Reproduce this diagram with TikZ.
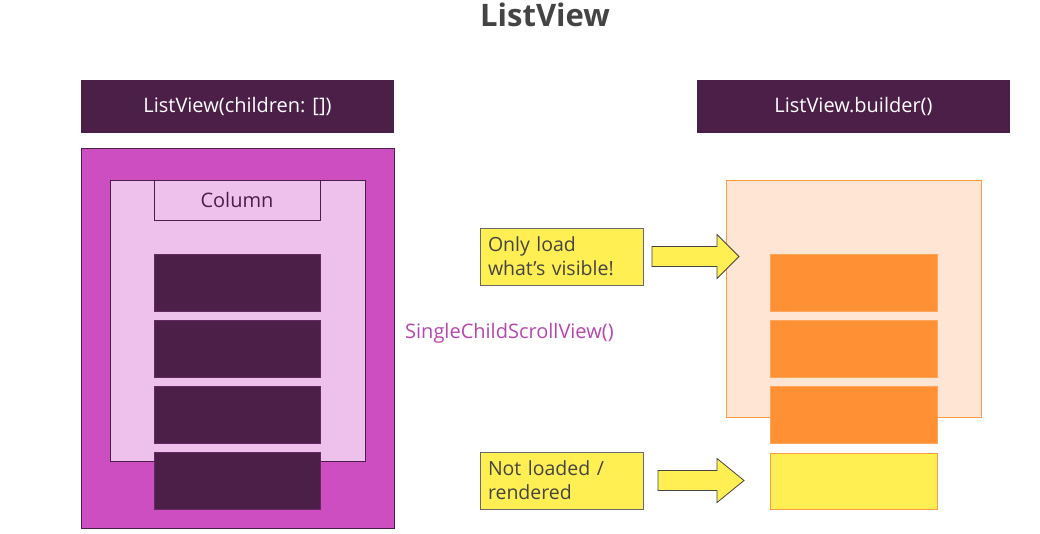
\documentclass[tikz,border=0pt]{standalone}
\usepackage{fontspec}
\setmainfont{Open Sans}
\newfontfamily\titlefont{Open Sans}
\usetikzlibrary{calc}

\definecolor{plum}{RGB}{75,31,72}
\definecolor{orchid}{RGB}{204,78,192}
\definecolor{lilac}{RGB}{237,193,235}
\definecolor{peach}{RGB}{255,229,212}
\definecolor{tangerine}{RGB}{255,144,51}
\definecolor{tangline}{RGB}{255,154,69}
\definecolor{lemon}{RGB}{255,239,82}
\definecolor{inkgray}{RGB}{68,68,68}

\tikzset{
  box/.style={draw, inner sep=0pt, outer sep=0pt, line width=0.8pt},
  header/.style={box, draw=none, fill=plum, text=white, minimum width=313, minimum height=53, font=\fontsize{20}{24}\selectfont},
  item/.style={box, draw=plum!80!orchid, fill=plum, minimum width=166, minimum height=57},
  tile/.style={box, draw=tangerine!80!white, fill=tangerine, minimum width=167, minimum height=57},
  note/.style={box, draw=inkgray!80, fill=lemon, minimum width=163, minimum height=57, text width=147, align=left, text=inkgray, font=\fontsize{19.5}{24}\selectfont},
  fatarrow/.style={draw=inkgray, fill=lemon, line width=0.8pt, line join=miter},
}
% shaft length, head length, start point
\def\fatarrow(#1:#2)(#3){\draw[fatarrow] ($(#3)+(0,-10)$) -- ++(#1,0) -- ++(0,-12) -- ++(#2,22) -- ++(-#2,22) -- ++(0,-12) -- ++(-#1,0) -- cycle;}

\begin{document}
\begin{tikzpicture}[x=1pt, y=-1pt]
  \useasboundingbox (0,0) rectangle (1040,534);

  %%%%% TITLE %%%%%
  \node[text=inkgray, font=\titlefont\bfseries\fontsize{31}{34}\selectfont] (title) at (545,15) {ListView};

  %%%%% LEFT: ListView(children: []) %%%%%
  \node[header] (lhead) at (237.5,106.5) {ListView(children: [])};
  \node[box, draw=plum, fill=orchid, minimum width=313, minimum height=380] (scroll) at (237.5,338) {};
  \node[box, draw=plum, fill=lilac, minimum width=255, minimum height=281] (col) at (237.5,320.5) {};
  \node[box, draw=plum, fill=lilac, minimum width=166, minimum height=40, text=plum, font=\fontsize{20}{24}\selectfont] (colhead) at (237,200) {Column};
  \foreach \y [count=\i] in {282.5,348.5,414.5,480.5}
    \node[item] (child\i) at (237,\y) {};

  \node[anchor=west, text=orchid!90!black, font=\fontsize{20}{24}\selectfont, inner sep=0pt] (scvlabel) at (405,333) {SingleChildScrollView()};

  %%%%% RIGHT: ListView.builder() %%%%%
  \node[header] (rhead) at (853.5,106.5) {ListView.builder()};
  \node[box, draw=tangline, fill=peach, minimum width=255, minimum height=237] (viewport) at (853.5,298.5) {};
  \foreach \y [count=\i] in {282.5,348.5,414.5}
    \node[tile] (tile\i) at (853.5,\y) {};
  \node[box, draw=tangline, fill=lemon, minimum width=167, minimum height=56] (lazy) at (853.5,481) {};

  %%%%% NOTES %%%%%
  \node[note] (visible) at (561.5,256.5) {Only load\\what's visible!};
  \node[note] (unloaded) at (561.5,480.5) {Not loaded /\\rendered};

  \coordinate (visarrow) at ($(visible.east)+(9,0)$);
  \coordinate (unarrow) at ($(unloaded.east)+(15,0)$);
  \fatarrow(65:22)(visarrow)
  \fatarrow(59:27)(unarrow)
\end{tikzpicture}
\end{document}
